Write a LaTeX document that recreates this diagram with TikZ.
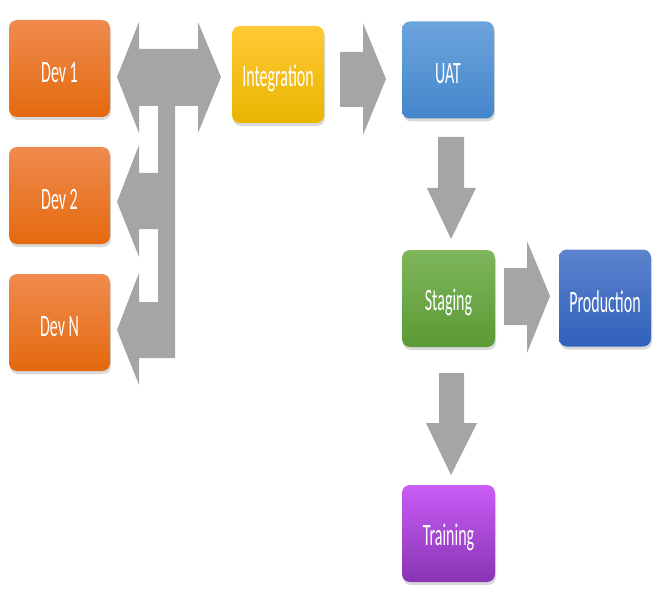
\documentclass[tikz,border=0pt]{standalone}
\usepackage{graphicx,xcolor}
\usepackage{fontspec}
\setmainfont{Carlito}
\usepackage{tikz}
\usetikzlibrary{shadows}
\definecolor{dev-top}{HTML}{F08B4E}
\definecolor{dev-bot}{HTML}{E3690E}
\definecolor{int-top}{HTML}{FFC936}
\definecolor{int-bot}{HTML}{E9B500}
\definecolor{uat-top}{HTML}{6CA4DC}
\definecolor{uat-bot}{HTML}{4486CB}
\definecolor{stg-top}{HTML}{7DB65B}
\definecolor{stg-bot}{HTML}{5C9A35}
\definecolor{prd-top}{HTML}{5B83CD}
\definecolor{prd-bot}{HTML}{3261BB}
\definecolor{trn-top}{HTML}{C95CF7}
\definecolor{trn-bot}{HTML}{8834B3}
\definecolor{arrow-grey}{HTML}{A5A5A5}
\newcommand{\tall}[1]{\raisebox{-4pt}[\height][\depth]{\scalebox{1}[1.95]{#1}}}

\begin{document}
\begin{tikzpicture}[x=1pt, y=-1pt]

    \useasboundingbox (0,0) rectangle (667,591);

    % arrows
    \begin{scope}[every path/.style={fill=arrow-grey}]
        \fill (117,77) -- (139,22) -- (139,49) -- (198,49) -- (198,22) -- (221,77)
            -- (198,133) -- (198,106) -- (175,106) -- (175,358) -- (139,358)
            -- (139,385) -- (117,330) -- (139,273) -- (139,302) -- (158,302)
            -- (158,229) -- (139,229) -- (139,257) -- (117,202) -- (139,145)
            -- (139,173) -- (158,173) -- (158,106) -- (139,106) -- (139,133) -- cycle;
        \fill (340,52) -- (363,52) -- (363,23) -- (386,79) -- (363,135) -- (363,107) -- (340,107) -- cycle;
        \fill (438,137) -- (464,137) -- (464,188) -- (476,188) -- (451,239) -- (427,188) -- (438,188) -- cycle;
        \fill (504,268) -- (527,268) -- (527,241) -- (550,296) -- (527,353) -- (527,325) -- (504,325) -- cycle;
        \fill (439,373) -- (464,373) -- (464,423) -- (477,423) -- (451,475) -- (426,423) -- (439,423) -- cycle;
    \end{scope}

    % stages
    \begin{scope}[every node/.style={rectangle, rounded corners=8pt, text=white,
                  font=\fontsize{16}{18}\selectfont, minimum height=97pt,
                  drop shadow={shadow xshift=1pt, shadow yshift=-3pt, opacity=0.3}}]
        \node[minimum width=101pt, top color=dev-top, bottom color=dev-bot] (dev1) at (59.5,68.5) {\tall{Dev 1}};
        \node[minimum width=101pt, top color=dev-top, bottom color=dev-bot] (dev2) at (59.5,195.5) {\tall{Dev 2}};
        \node[minimum width=101pt, top color=dev-top, bottom color=dev-bot] (devN) at (59.5,322.5) {\tall{Dev N}};
        \node[minimum width=92pt, top color=int-top, bottom color=int-bot] (int) at (278,74.5) {\tall{Integration}};
        \node[minimum width=92pt, top color=uat-top, bottom color=uat-bot] (uat) at (448,70) {\tall{UAT}};
        \node[minimum width=93pt, top color=stg-top, bottom color=stg-bot] (stg) at (448.5,298.5) {\tall{Staging}};
        \node[minimum width=92pt, top color=prd-top, bottom color=prd-bot] (prd) at (605,298) {\tall{Production}};
        \node[minimum width=93pt, top color=trn-top, bottom color=trn-bot] (trn) at (448.5,533.5) {\tall{Training}};
    \end{scope}

\end{tikzpicture}
\end{document}
